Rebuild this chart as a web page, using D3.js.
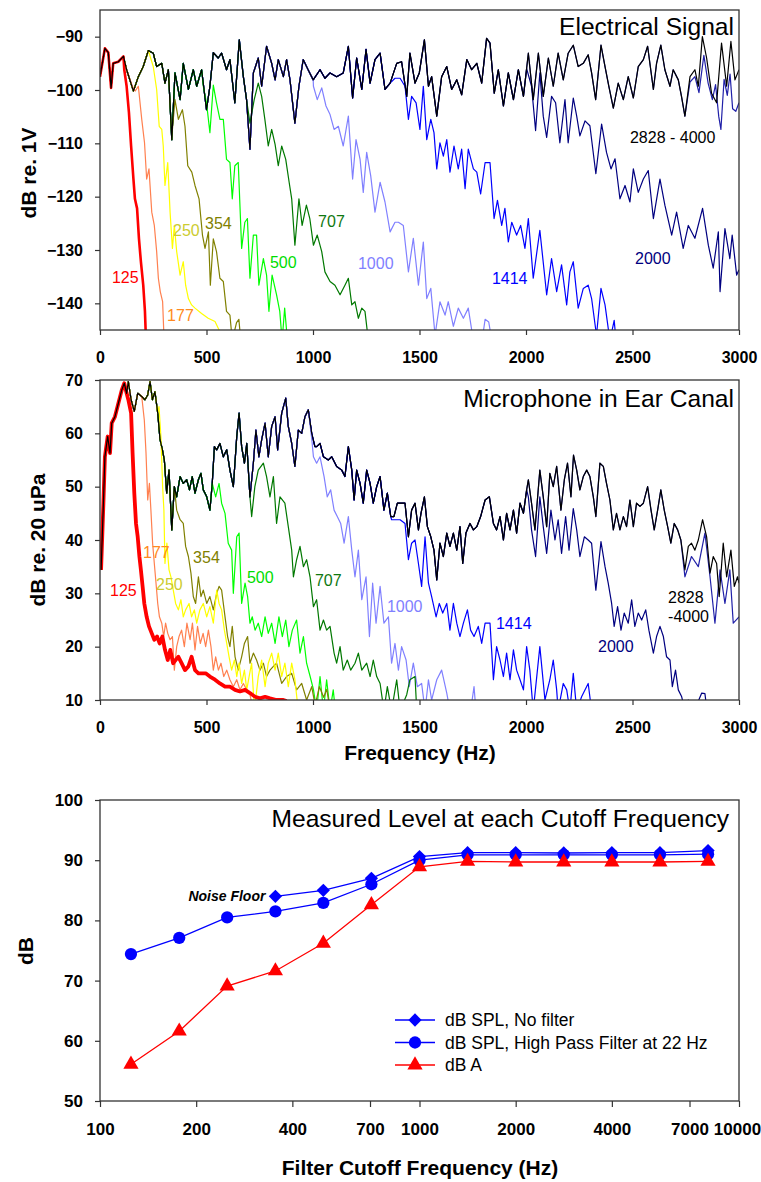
<!DOCTYPE html>
<html>
<head>
<meta charset="utf-8">
<script src="https://cdn.jsdelivr.net/npm/d3@7"></script>
<style>
  body { margin: 0; background: #fff; }
  text { font-family: "Liberation Sans", Arial, sans-serif; }
</style>
</head>
<body>
<svg id="chart" width="761" height="1182"></svg>
<script>
// ---- spectra: [frequency Hz, level dB] ----
// top panel, electrical signal (dB re 1V); broadband = "2828 - 4000" black trace
const elecBroad = [[0,-97.5],[23,-92.2],[39,-93],[52,-99.6],[62,-95],[86,-94.7],[110,-93.7],[125,-96.2],[157,-100.2],[180,-97.5],[203,-95.6],[227,-92.6],[250,-93.1],[266,-95.6],[290,-95],[305,-98.7],[321,-96.2],[337,-109.3],[352,-96.8],[376,-101.8],[391,-95],[415,-99.9],[438,-96.2],[454,-99.3],[477,-96.2],[500,-103.7],[516,-99.3],[532,-93],[555,-94],[571,-93.1],[594,-96.2],[610,-94.3],[633,-102.4],[654,-90.6],[673,-97.5],[688,-101.8],[704,-111.1],[720,-96.8],[743,-94],[759,-99.3],[782,-91.8],[806,-95],[822,-98.1],[837,-94.3],[861,-97.5],[876,-94.3],[892,-98.1],[915,-106.2],[934,-99.3],[954,-94.3],[977,-96.2],[1001,-98.1],[1033,-96.2],[1056,-97.8],[1080,-96.8],[1111,-97.5],[1142,-96.8],[1166,-91.8],[1186,-101.5],[1205,-94],[1229,-99.9],[1249,-92.4],[1268,-98.7],[1291,-94.3],[1315,-93.1],[1338,-99.9],[1362,-98.7],[1393,-95],[1416,-94.7],[1440,-101.2],[1455,-93.1],[1479,-98.7],[1499,-96.8],[1523,-90.6],[1542,-99.3],[1557,-97.5],[1581,-104.9],[1604,-97.5],[1628,-95.6],[1651,-99.9],[1675,-98.1],[1698,-100.9],[1722,-94.3],[1745,-96.2],[1769,-95],[1792,-98.7],[1815,-90.3],[1831,-91.2],[1851,-100.6],[1870,-96.2],[1894,-103],[1917,-96.8],[1941,-101.8],[1964,-96.2],[1988,-101.2],[2011,-93.1],[2034,-101.8],[2058,-93.1],[2081,-101.2],[2105,-94],[2128,-99.3],[2151,-93.1],[2175,-98.1],[2198,-93.1],[2222,-91.6],[2245,-95.6],[2269,-95],[2292,-93.4],[2308,-96.8],[2327,-101.8],[2352,-91.6],[2371,-95.6],[2389,-99.3],[2410,-103.4],[2433,-98.7],[2457,-101.8],[2480,-97.5],[2504,-101.5],[2527,-95.6],[2551,-94.3],[2571,-91.8],[2598,-99.9],[2613,-95],[2633,-91.6],[2652,-96.2],[2676,-99.3],[2691,-96.2],[2715,-98.1],[2730,-101.2],[2746,-104.9],[2770,-97.5],[2793,-96.2],[2809,-99.3],[2828,-90],[2848,-94],[2871,-100.6],[2895,-102.4],[2918,-91.2],[2942,-99.3],[2962,-90.9],[2981,-98.1],[3000,-96.2]];
const elec125 = [[114,-96.2],[125,-99.3],[136,-104.3],[146,-110.5],[157,-116.7],[164,-120.4],[174,-122.2],[183,-127.9],[192,-132.2],[203,-136.6],[211,-141.5],[216,-147]];
const elec177 = [[152,-99.3],[165,-100.2],[180,-99.3],[196,-105.5],[209,-109.9],[219,-116.7],[230,-114.8],[243,-122.9],[255,-125.4],[266,-130.3],[274,-135.3],[283,-137.8],[294,-139.7],[301,-147]];
const elec250 = [[250,-95.6],[266,-99.9],[278,-106.8],[290,-107.4],[297,-110.5],[305,-117.9],[318,-113.6],[329,-122.9],[340,-129.7],[349,-125.4],[360,-130.3],[376,-134.7],[391,-132.2],[402,-136.6],[415,-139.1],[430,-140.3],[446,-140.9],[477,-141.9],[508,-142.8],[540,-143.4],[571,-146]];
const elec354 = [[340,-107.4],[352,-101.8],[368,-105.5],[387,-103.7],[399,-106.8],[412,-114.2],[431,-115.4],[446,-117.9],[465,-120.4],[481,-127.2],[493,-129.7],[509,-126.6],[518,-136.6],[532,-127.9],[547,-130.3],[563,-135.3],[579,-135.9],[594,-141.5],[610,-142.2],[621,-147],[641,-143.6],[652,-143],[661,-147]];
const elec500 = [[485,-99.3],[500,-102.4],[516,-108],[532,-99.1],[547,-102.4],[563,-105.5],[579,-105.5],[594,-113],[610,-113.6],[621,-120.4],[633,-114.2],[649,-113.6],[665,-129.7],[680,-124.8],[692,-124.1],[704,-135.3],[720,-127.2],[735,-127.2],[746,-136.6],[767,-131.6],[782,-134.7],[793,-141.5],[808,-134.7],[829,-138.4],[844,-141.5],[855,-147],[867,-140.9],[880,-147]];
const elec707 = [[704,-106.2],[724,-101.8],[743,-98.7],[759,-101.2],[774,-105.5],[790,-110.5],[806,-107.4],[822,-110.2],[837,-114.2],[853,-110.5],[872,-113],[888,-117.3],[900,-120.4],[915,-129.1],[934,-120.4],[949,-125.4],[969,-121.6],[985,-124.1],[1002,-129.1],[1020,-127.2],[1041,-130.3],[1056,-134.1],[1080,-135.9],[1103,-136.6],[1127,-138.4],[1150,-136.6],[1166,-135.3],[1182,-140.3],[1197,-139.7],[1213,-142.8],[1229,-140.9],[1244,-141.5],[1260,-147]];
const elec1000 = [[1002,-99.3],[1020,-101.8],[1041,-99.6],[1061,-103],[1080,-104.6],[1099,-107.4],[1119,-106.8],[1142,-110.5],[1166,-104.9],[1186,-116.7],[1202,-109.3],[1221,-113],[1236,-119.2],[1252,-111.7],[1271,-116.1],[1291,-122.9],[1315,-117.3],[1338,-121],[1362,-126.6],[1385,-124.8],[1401,-124.8],[1424,-125.4],[1448,-134.1],[1471,-127.8],[1495,-136.6],[1518,-128.5],[1534,-139.1],[1553,-137.2],[1573,-146],[1596,-139.7],[1620,-142.2],[1635,-139.7],[1659,-144.3],[1682,-140.9],[1706,-142.8],[1729,-140.9],[1753,-147],[1790,-148],[1808,-143],[1825,-143.5],[1840,-147]];
const elec1414 = [[1385,-97.8],[1409,-97.8],[1432,-99.3],[1448,-105.5],[1463,-101.2],[1484,-102.4],[1502,-107.4],[1518,-99.3],[1534,-109.3],[1553,-105.5],[1568,-108],[1581,-114.8],[1596,-109.9],[1612,-112.4],[1628,-109.3],[1643,-115.4],[1662,-110.5],[1682,-114.8],[1698,-111.1],[1714,-118.5],[1729,-111.1],[1753,-114.8],[1769,-115.4],[1787,-119.5],[1808,-113.6],[1831,-113.6],[1850,-124.1],[1866,-120.7],[1886,-125.4],[1901,-122.2],[1917,-128.5],[1933,-124.8],[1956,-127.2],[1975,-125.4],[1995,-129.7],[2011,-124.1],[2034,-135.3],[2065,-126.3],[2097,-138.4],[2120,-131.6],[2144,-137.8],[2167,-132.8],[2191,-140.3],[2206,-134.1],[2222,-132.2],[2245,-140.9],[2269,-137.2],[2292,-136.6],[2308,-139.1],[2331,-146],[2352,-137.2],[2371,-140.3],[2394,-147],[2414,-143.2],[2425,-148]];
const elec2000 = [[2003,-96],[2026,-99.3],[2045,-107.6],[2065,-96.8],[2081,-104.9],[2097,-108.9],[2120,-101.2],[2139,-102.4],[2159,-109.9],[2183,-101.8],[2198,-109.9],[2222,-101.5],[2238,-104.9],[2253,-108.6],[2277,-105.8],[2300,-106.7],[2328,-115.7],[2355,-106.4],[2378,-111.7],[2399,-114.8],[2418,-112.9],[2441,-120.4],[2465,-117.9],[2488,-121],[2504,-114.8],[2527,-119.2],[2551,-116.7],[2574,-115.1],[2598,-124.1],[2629,-116.7],[2652,-121.6],[2684,-127.2],[2707,-122.9],[2738,-129.7],[2762,-125.4],[2793,-127.8],[2829,-122.2],[2856,-129.1],[2879,-133.4],[2903,-126.6],[2911,-137.8],[2934,-126],[2957,-131.6],[2968,-127.2],[2989,-134.7],[3000,-133.7]];
const elec2828 = [[2746,-104.9],[2770,-98.5],[2793,-97.5],[2812,-100.5],[2835,-93.5],[2855,-98.7],[2875,-101.8],[2890,-99],[2905,-105],[2915,-107.4],[2930,-98],[2945,-101],[2958,-97],[2970,-103.5],[2985,-104],[3000,-102.4]];

// middle panel, microphone in ear canal (dB re 20 uPa)
const micBroad = [[5,34.4],[16,46.9],[23,55.6],[36,59.4],[47,56.3],[55,61.9],[70,63.1],[86,65.6],[102,68.1],[114,69.4],[125,67.5],[133,69.7],[146,66.3],[161,64.1],[177,67.5],[196,66.9],[211,66.3],[224,67.2],[235,69.7],[246,66.3],[258,67.8],[271,63.8],[282,58.8],[293,56.9],[302,55],[313,48.8],[324,53.1],[337,41.9],[349,50],[360,48.1],[376,51.9],[391,50.6],[407,51.3],[420,49.4],[433,51.9],[446,48.8],[462,51.3],[474,52.5],[485,49.4],[501,48.1],[516,45.6],[527,50.6],[537,57.5],[548,56.9],[563,58.1],[579,55.6],[595,56.9],[610,53.1],[626,50],[642,59.4],[653,63.8],[665,57.5],[678,54.4],[689,58.1],[704,48.1],[720,54.4],[732,60.6],[746,55.6],[759,58.8],[775,61.9],[790,55.6],[806,61.3],[822,63.1],[834,56.9],[853,63.8],[872,66.6],[884,61.3],[900,58.1],[915,53.8],[931,60.6],[947,60],[962,63.1],[978,64.4],[994,60],[1009,57.5],[1017,57.5],[1033,58.1],[1049,55.6],[1072,55],[1088,55.6],[1111,53.8],[1135,53.1],[1150,51.9],[1166,57.5],[1182,53.1],[1193,47.5],[1205,53.1],[1221,50.6],[1236,46.9],[1252,53.1],[1268,50.6],[1283,46.9],[1299,50],[1315,51.9],[1333,45.6],[1349,48.8],[1365,44.4],[1380,44.4],[1396,46.9],[1416,46.9],[1432,46.9],[1448,40.6],[1463,45.6],[1479,46.9],[1495,41.9],[1507,45],[1523,48.1],[1537,42.5],[1553,40.6],[1568,38.1],[1581,32.5],[1596,39.4],[1612,36.9],[1628,41.3],[1643,38.8],[1659,41.3],[1675,38.1],[1690,42.5],[1703,35.6],[1718,41.3],[1737,43.1],[1753,41.9],[1769,42.5],[1787,44.4],[1808,47.5],[1828,48.1],[1847,43.1],[1862,41.9],[1878,44.4],[1894,40],[1909,45],[1925,41.9],[1941,45.6],[1956,41.3],[1972,46.9],[1988,45],[2003,49.4],[2011,51.3],[2026,46.9],[2042,41.9],[2065,53.1],[2081,48.1],[2097,42.5],[2112,52.5],[2128,50],[2144,53.8],[2164,45.6],[2180,51.3],[2195,54.4],[2211,48.1],[2223,55.9],[2238,53.1],[2253,49.4],[2269,51.9],[2285,53.1],[2300,51.9],[2316,48.1],[2328,44.4],[2347,54.4],[2363,53.8],[2378,50.6],[2394,47.5],[2410,41.9],[2425,45],[2441,41.9],[2457,44.4],[2472,42.5],[2488,47.5],[2504,42.5],[2519,46.9],[2535,46.3],[2551,46.9],[2571,50],[2587,45.6],[2602,41.9],[2618,45.6],[2633,49.4],[2649,45.6],[2665,42.5],[2680,39.4],[2696,43.1],[2712,41.9],[2727,40],[2746,34.4],[2762,38.8],[2777,39.4],[2793,38.1],[2809,40],[2829,43.8],[2848,40.6],[2864,33.8],[2879,36.9],[2895,35.6],[2907,29.4],[2926,39.4],[2942,33.1],[2962,38.1],[2978,31.3],[2993,33.1],[3000,31.9]];
const mic125 = [[133,66.3],[146,63.8],[153,56.3],[161,48.8],[169,43.1],[177,40.6],[185,36.9],[192,34.4],[200,31.3],[208,28.1],[219,25.6],[230,23.8],[243,22.5],[255,21.3],[268,21.9],[280,20.6],[293,21.9],[305,19.4],[318,17.5],[330,19.4],[343,16.9],[355,17.5],[368,18.1],[383,16.9],[399,15.6],[415,16.3],[430,18.1],[446,15.6],[462,15],[477,15],[496,15],[516,14.4],[540,13.8],[563,13.1],[587,12.5],[610,12.5],[634,11.9],[657,11.6],[681,11.9],[704,11.3],[728,10.6],[751,10.3],[775,10.6],[798,10.3],[829,10],[861,10],[876,9.8]];
const mic177 = [[208,62.5],[216,56.3],[224,47.5],[232,50.6],[239,45.6],[247,39.4],[255,35.6],[263,31.9],[271,28.1],[279,25.6],[290,24.4],[299,21.9],[308,24.4],[318,22.5],[329,21.3],[340,21.9],[349,15.6],[360,20],[371,21.9],[383,23.1],[396,20],[408,24.4],[423,21.3],[434,24.4],[446,19.4],[458,23.8],[471,20.6],[484,22.5],[496,20],[509,23.1],[521,20],[532,15.6],[543,18.1],[556,15.6],[568,16.9],[581,14.4],[595,15.6],[610,13.8],[626,12.5],[642,13.8],[657,11.9],[673,13.1],[689,11.9],[704,11],[720,8]];
const mic250 = [[277,65],[286,59.4],[294,50],[300,45.6],[305,35.6],[314,39.4],[324,34.4],[333,33.1],[344,30.6],[355,28.1],[368,26.9],[380,28.8],[391,25.6],[402,26.9],[418,28.1],[430,25.6],[443,26.9],[454,24.4],[469,26.9],[485,28.1],[501,25.6],[516,27.5],[532,24.4],[548,30.6],[559,28.1],[571,26.9],[584,23.1],[595,20.6],[606,18.1],[618,15.6],[631,17.5],[642,14.4],[653,16.9],[665,13.1],[678,15.6],[689,11.9],[700,14.4],[712,16.9],[725,8],[743,14.4],[759,17.5],[775,12.5],[790,16.9],[806,18.8],[822,15.6],[837,18.8],[853,14.4],[868,16.9],[884,12.5],[900,16.9],[915,13.8],[931,8]];
const mic354 = [[360,45.6],[376,43.8],[391,43.1],[402,38.8],[415,36.9],[427,33.8],[438,29.4],[449,28.1],[462,33.1],[474,29.4],[485,30.6],[501,28.1],[516,29.4],[532,26.9],[548,30],[559,31.3],[571,30.6],[587,25.6],[599,21.9],[610,20],[621,23.8],[634,18.1],[649,15.6],[665,18.1],[678,20.6],[693,21.9],[704,16.9],[720,18.8],[735,17.5],[751,15.6],[767,16.9],[782,14.4],[798,15.6],[814,16.3],[829,16.9],[853,13.1],[876,14.4],[900,15],[923,11.9],[947,13.1],[970,10],[994,12.5],[1010,9],[1030,12.5],[1050,10.5],[1065,12],[1080,8]];
const mic500 = [[527,50.6],[543,48.1],[559,50.6],[571,46.9],[587,45],[602,39.4],[618,38.1],[626,30],[642,40.6],[653,41.3],[665,28.1],[681,31.9],[693,29.4],[704,24.4],[715,25.6],[728,23.1],[743,24.4],[759,21.9],[775,25.6],[790,22.5],[806,24.4],[822,20.6],[840,25.6],[856,21.9],[872,25],[887,20],[903,23.1],[923,25],[939,18.8],[955,21.9],[970,16.9],[986,14.5],[1002,12],[1017,8],[1033,14.4],[1049,8],[1064,13.8],[1080,8],[1095,11.9],[1105,8]];
const mic707 = [[712,44.4],[727,50],[743,53.1],[767,54.4],[782,51.9],[798,48.1],[814,51.9],[829,43.1],[845,48.1],[868,46.9],[884,42.5],[900,38.1],[908,33.1],[923,36.3],[939,38.8],[955,35],[970,36.3],[986,33.1],[1002,27.5],[1017,28.8],[1033,23.1],[1049,25],[1064,23.1],[1080,23.8],[1099,18.8],[1111,16.9],[1127,20],[1142,15.6],[1161,17.5],[1177,15.6],[1197,16.9],[1213,18.8],[1229,15.6],[1252,16.9],[1268,14.4],[1283,17.5],[1299,14.4],[1315,13.1],[1333,8],[1349,12.5],[1369,8],[1393,13.8],[1409,8],[1440,11],[1455,13.8],[1479,14.4],[1487,8]];
const mic1000 = [[994,59],[1002,55.6],[1017,54.4],[1033,55.6],[1052,51.9],[1067,48.1],[1083,49.4],[1099,45.6],[1114,44.4],[1130,43.1],[1146,39.4],[1166,44.4],[1182,38.1],[1197,33.1],[1213,38.1],[1229,28.8],[1249,33.1],[1265,21.9],[1280,31.9],[1296,24.4],[1315,31.3],[1333,24.4],[1354,25.6],[1369,16.9],[1385,20.6],[1401,15.6],[1416,20],[1437,17.5],[1452,12.5],[1471,16.9],[1490,12.5],[1510,13.1],[1526,8],[1542,13.8],[1557,10],[1581,13.8],[1604,15.6],[1628,11.3],[1643,8],[1740,8],[1756,12.5],[1765,8]];
const mic1414 = [[1369,43.8],[1385,43.8],[1409,43.8],[1432,43.1],[1448,36.3],[1463,39.4],[1479,40],[1495,35.6],[1510,31.3],[1526,40.6],[1542,31.9],[1557,29.4],[1578,25.6],[1593,28.1],[1609,26.3],[1628,28.1],[1643,23.1],[1659,28.1],[1675,24.4],[1690,21.9],[1706,24.4],[1725,26.9],[1740,23.1],[1756,21.9],[1776,23.8],[1792,20.6],[1808,24.4],[1831,24.4],[1847,13.8],[1862,20],[1878,17.5],[1894,14.4],[1909,18.8],[1925,13.8],[1941,19.4],[1956,15.6],[1972,13.8],[1988,11.9],[2003,20],[2018,15.6],[2034,8],[2065,20],[2089,10],[2112,13.8],[2128,17.5],[2144,11.9],[2151,8],[2175,13.1],[2191,11.9],[2206,8],[2222,15],[2238,8],[2261,10.6],[2292,13.1],[2308,8]];
const mic2000 = [[2011,48.1],[2026,41.9],[2045,36.9],[2065,48.1],[2081,42.5],[2097,37.5],[2117,45.6],[2136,40],[2151,43.8],[2167,37.5],[2186,44.4],[2202,38.1],[2222,45.9],[2238,41.9],[2253,36.9],[2274,40.6],[2292,40],[2308,39.4],[2328,30.6],[2352,39.7],[2371,35],[2386,31.9],[2402,28.1],[2414,23.8],[2430,27.5],[2446,23.1],[2461,26.3],[2480,24.4],[2496,28.8],[2511,23.8],[2527,26.3],[2543,25],[2562,26.9],[2577,23.1],[2598,18.8],[2613,21.9],[2629,23.8],[2645,21.9],[2660,18.1],[2676,17.5],[2687,12.5],[2702,15.6],[2715,11.9],[2731,10.6],[2746,8],[2762,10],[2790,8],[2825,11.3],[2840,11.2],[2850,8]];
const mic2828 = [[2746,33.1],[2777,36.9],[2809,35],[2840,41.3],[2864,33.1],[2887,24.4],[2911,34.4],[2934,28.1],[2957,34.4],[2973,24.4],[3000,25.6]];

// bottom panel: measured level at each cutoff
const cutoffFreqs = [125, 177, 250, 354, 500, 707, 1000, 1414, 2000, 2828, 4000, 5657, 8000];
const splNoFilter = [null, null, null, 84, 85, 87, 90.6, 91.25, 91.25, 91.2, 91.25, 91.25, 91.6];
const splHighPass = [74.4, 77.1, 80.5, 81.5, 82.9, 86, 90, 90.9, 90.9, 90.9, 90.9, 90.9, 91];
const dBA = [56.1, 61.6, 69.1, 71.6, 76.2, 82.6, 88.9, 89.8, 89.7, 89.7, 89.7, 89.7, 89.8];

const freqTicks = [0, 500, 1000, 1500, 2000, 2500, 3000];
const elecTicks = [-90, -100, -110, -120, -130, -140];
const micTicks = [10, 20, 30, 40, 50, 60, 70];
const cutoffTicks = [100, 200, 400, 700, 1000, 2000, 4000, 7000, 10000];
const levelTicks = [50, 60, 70, 80, 90, 100];

// styles
const curveStyle = {
  "125":  {line: "#ff0000", text: "#ff0000"},
  "177":  {line: "#ff8050", text: "#ff8a20"},
  "250":  {line: "#ffff00", text: "#cccc30"},
  "354":  {line: "#808000", text: "#808000"},
  "500":  {line: "#00ff00", text: "#00dd00"},
  "707":  {line: "#007800", text: "#107810"},
  "1000": {line: "#8080ff", text: "#8080ff"},
  "1414": {line: "#0000ff", text: "#0000ff"},
  "2000": {line: "#000080", text: "#000080"},
  "2828": {line: "#2020a8", text: "#000"}
};

const svg = d3.select("#chart");
const x = d3.scaleLinear().domain([0, 3000]).range([100, 739]);
const yTop = d3.scaleLinear().domain([-145, -85]).range([330, 10]);
const yMid = d3.scaleLinear().domain([10, 70]).range([700, 380]);
const xLog = d3.scaleLog().domain([100, 10000]).range([100, 739]);
const yBot = d3.scaleLinear().domain([50, 100]).range([1101, 800]);

function styleAxis(g, size) {
  g.select(".domain").remove();
  g.selectAll(".tick line").attr("stroke", "#333").attr("stroke-width", 1.2);
  g.selectAll(".tick text").attr("fill", "#000").style("font-size", size + "px").style("font-weight", "bold")
    .style("font-family", '"Liberation Sans", Arial, sans-serif');
}

function frame(y0, y1) {
  svg.append("rect").attr("x", 100).attr("y", y0).attr("width", 639).attr("height", y1 - y0)
    .attr("fill", "none").attr("stroke", "#333").attr("stroke-width", 1.3);
}

function spectrumPanel(id, y, broad, curves, labels, title, titleY, yTicks, fmt) {
  const [yb, yt] = y.range();
  svg.append("clipPath").attr("id", id).append("rect")
    .attr("x", 100).attr("y", yt).attr("width", 639).attr("height", yb - yt);
  const line = d3.line().x(d => x(d[0])).y(d => y(d[1]));
  const g = svg.append("g").attr("clip-path", `url(#${id})`);
  // filtered traces share the broadband trace until they break away
  curves.slice().reverse().forEach(c => {
    const pts = broad.filter(d => d[0] < c.data[0][0]).concat(c.data);
    g.append("path").datum(pts).attr("d", line).attr("fill", "none")
      .attr("stroke", curveStyle[c.name].line).attr("stroke-width", c.name === "125" ? c.w : 1.2)
      .attr("stroke-linejoin", "round");
  });
  g.append("path").datum(broad).attr("d", line).attr("fill", "none")
    .attr("stroke", "#000").attr("stroke-width", 1.2).attr("stroke-linejoin", "round");

  labels.forEach(l => {
    const t = svg.append("text").attr("x", x(l.f)).attr("y", y(l.db))
      .attr("fill", curveStyle[l.name].text).style("font-size", "16px");
    l.lines.forEach((s, i) => t.append("tspan").attr("x", x(l.f)).attr("dy", i ? 19 : 0).text(s));
  });

  frame(yt, yb);
  svg.append("g").attr("transform", `translate(100,0)`)
    .call(d3.axisLeft(y).tickValues(yTicks).tickSize(5).tickPadding(12).tickFormat(fmt))
    .call(g => styleAxis(g, 16));
  svg.append("g").attr("transform", `translate(0,${yb})`)
    .call(d3.axisBottom(x).tickValues(freqTicks).tickSize(5).tickPadding(17).tickFormat(d3.format("d")))
    .call(g => styleAxis(g, 16));
  svg.append("text").attr("x", 734).attr("y", titleY).attr("text-anchor", "end")
    .style("font-size", "24.6px").text(title);
}

spectrumPanel("clipTop", yTop, elecBroad, [
  {name: "125", data: elec125, w: 2.6}, {name: "177", data: elec177}, {name: "250", data: elec250},
  {name: "354", data: elec354}, {name: "500", data: elec500}, {name: "707", data: elec707},
  {name: "1000", data: elec1000}, {name: "1414", data: elec1414}, {name: "2000", data: elec2000},
  {name: "2828", data: elec2828}
], [
  {name: "125", f: 56, db: -136.1, lines: ["125"]}, {name: "177", f: 315, db: -143.4, lines: ["177"]},
  {name: "250", f: 343, db: -127.3, lines: ["250"]}, {name: "354", f: 493, db: -126, lines: ["354"]},
  {name: "500", f: 798, db: -133.3, lines: ["500"]}, {name: "707", f: 1024, db: -125.6, lines: ["707"]},
  {name: "1000", f: 1211, db: -133.6, lines: ["1000"]}, {name: "1414", f: 1840, db: -136.4, lines: ["1414"]},
  {name: "2000", f: 2512, db: -132.7, lines: ["2000"]}, {name: "2828", f: 2488, db: -109.9, lines: ["2828 - 4000"]}
], "Electrical Signal", 35, elecTicks, d3.format("d"));

spectrumPanel("clipMid", yMid, micBroad, [
  {name: "125", data: mic125, w: 3.8}, {name: "177", data: mic177}, {name: "250", data: mic250},
  {name: "354", data: mic354}, {name: "500", data: mic500}, {name: "707", data: mic707},
  {name: "1000", data: mic1000}, {name: "1414", data: mic1414}, {name: "2000", data: mic2000},
  {name: "2828", data: mic2828}
], [
  {name: "125", f: 47, db: 29.5, lines: ["125"]}, {name: "177", f: 202, db: 36.6, lines: ["177"]},
  {name: "250", f: 263, db: 30.6, lines: ["250"]}, {name: "354", f: 437, db: 35.7, lines: ["354"]},
  {name: "500", f: 690, db: 31.9, lines: ["500"]}, {name: "707", f: 1009, db: 31.4, lines: ["707"]},
  {name: "1000", f: 1347, db: 26.5, lines: ["1000"]}, {name: "1414", f: 1859, db: 23.3, lines: ["1414"]},
  {name: "2000", f: 2338, db: 19, lines: ["2000"]}, {name: "2828", f: 2667, db: 28.2, lines: ["2828", "-4000"]}
], "Microphone in Ear Canal", 407, micTicks, d3.format("d"));

// y titles and x title for spectra
svg.append("text").attr("transform", "translate(36,173) rotate(-90)").attr("text-anchor", "middle")
  .style("font-size", "21px").style("font-weight", "bold").text("dB re. 1V");
svg.append("text").attr("transform", "translate(45,540) rotate(-90)").attr("text-anchor", "middle")
  .style("font-size", "21px").style("font-weight", "bold").text("dB re. 20 uPa");
svg.append("text").attr("x", 420).attr("y", 760).attr("text-anchor", "middle")
  .style("font-size", "21px").style("font-weight", "bold").text("Frequency (Hz)");

// ---- bottom panel ----
frame(800, 1101);
svg.append("g").attr("transform", "translate(100,0)")
  .call(d3.axisLeft(yBot).tickValues(levelTicks).tickSize(5).tickPadding(12))
  .call(g => styleAxis(g, 17));
svg.append("g").attr("transform", "translate(0,1101)")
  .call(d3.axisBottom(xLog).tickValues(cutoffTicks).tickSize(6).tickPadding(16).tickFormat(d3.format("d")))
  .call(g => styleAxis(g, 17))
  .call(g => g.selectAll(".tick text").filter(d => d === 10000).attr("dx", -2));

// diamonds are squares turned 45 degrees
const markerShape = {
  diamond: {type: d3.symbolSquare, size: 88, rot: 45},
  circle: {type: d3.symbolCircle, size: 118, rot: 0},
  triangle: {type: d3.symbolTriangle, size: 100, rot: 0}
};
function marker(sel, shape, color) {
  const m = markerShape[shape];
  sel.attr("d", d3.symbol().type(m.type).size(m.size)).attr("fill", color)
    .attr("transform", function () { return (this.getAttribute("transform") || "") + ` rotate(${m.rot})`; });
}

const series = [
  {vals: splHighPass, color: "#0000ff", shape: "circle"},
  {vals: splNoFilter, color: "#0000ff", shape: "diamond"},
  {vals: dBA, color: "#ff0000", shape: "triangle"}
];
const lvlLine = d3.line().defined(d => d[1] != null).x(d => xLog(d[0])).y(d => yBot(d[1]));
series.forEach(s => {
  const pts = cutoffFreqs.map((f, i) => [f, s.vals[i]]);
  svg.append("path").datum(pts).attr("d", lvlLine).attr("fill", "none")
    .attr("stroke", s.color).attr("stroke-width", 1.3);
  svg.append("g").selectAll("path").data(pts.filter(d => d[1] != null)).join("path")
    .attr("transform", d => `translate(${xLog(d[0])},${yBot(d[1])})`)
    .call(sel => marker(sel, s.shape, s.color));
});

svg.append("text").attr("x", xLog(354) - 10).attr("y", yBot(84) + 5).attr("text-anchor", "end")
  .style("font-size", "14px").style("font-weight", "bold").style("font-style", "italic").text("Noise Floor");

svg.append("text").attr("x", 729).attr("y", 827).attr("text-anchor", "end")
  .style("font-size", "24.6px").text("Measured Level at each Cutoff Frequency");

const legendItems = [
  {label: "dB SPL, No filter", color: "#0000ff", shape: "diamond"},
  {label: "dB SPL, High Pass Filter at 22 Hz", color: "#0000ff", shape: "circle"},
  {label: "dB A", color: "#ff0000", shape: "triangle"}
];
const leg = svg.append("g").attr("transform", "translate(395,1020)");
legendItems.forEach((d, i) => {
  const row = leg.append("g").attr("transform", `translate(0,${i * 22.5})`);
  row.append("line").attr("x1", 0).attr("x2", 40).attr("stroke", d.color).attr("stroke-width", 1.3);
  row.append("path").attr("transform", "translate(20,0)").call(sel => marker(sel, d.shape, d.color));
  row.append("text").attr("x", 50).attr("y", 6).style("font-size", "17.5px").text(d.label);
});

svg.append("text").attr("transform", "translate(33,951) rotate(-90)").attr("text-anchor", "middle")
  .style("font-size", "21px").style("font-weight", "bold").text("dB");
svg.append("text").attr("x", 420).attr("y", 1175).attr("text-anchor", "middle")
  .style("font-size", "21px").style("font-weight", "bold").text("Filter Cutoff Frequency (Hz)");
</script>
</body>
</html>
